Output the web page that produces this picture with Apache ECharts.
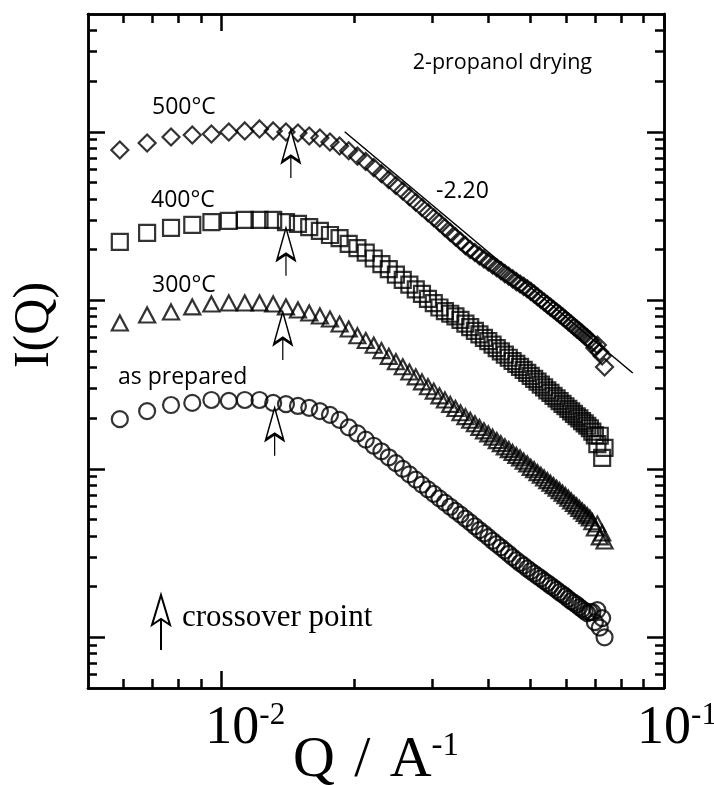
<!DOCTYPE html>
<html>
<head>
<meta charset="utf-8">
<script src="https://cdn.jsdelivr.net/npm/echarts@6/dist/echarts.min.js"></script>
<style>
  html, body { margin: 0; padding: 0; background: #fff; }
  #chart { width: 714px; height: 785px; }
</style>
</head>
<body>
<div id="chart"></div>
<script>
// Q values (A^-1), shared by all four curves
var qValues = [0.0059, 0.0068, 0.0077, 0.0086, 0.0095, 0.0104, 0.0113, 0.0122, 0.0131, 0.0140,
  0.0149, 0.0158, 0.0167, 0.0176, 0.0185, 0.0194, 0.0203, 0.0212, 0.0221, 0.0230,
  0.0239, 0.0248, 0.0257, 0.0266, 0.0275, 0.0284, 0.0293, 0.0302, 0.0311, 0.0320,
  0.0329, 0.0338, 0.0347, 0.0356, 0.0365, 0.0374, 0.0383, 0.0392, 0.0401, 0.0410,
  0.0419, 0.0428, 0.0437, 0.0446, 0.0455, 0.0464, 0.0473, 0.0482, 0.0491, 0.0500,
  0.0509, 0.0518, 0.0527, 0.0536, 0.0545, 0.0554, 0.0563, 0.0572, 0.0581, 0.0590,
  0.0599, 0.0608, 0.0617, 0.0626, 0.0635, 0.0644, 0.0653, 0.0662, 0.0671, 0.0680,
  0.0689, 0.0698, 0.0707, 0.0716, 0.0725, 0.0734];

// I(Q), arbitrary units
var i500 = [780, 858, 931, 957, 970, 997, 1012, 1040, 1012, 997,
  984, 944, 918, 869, 824, 772, 717, 667, 613, 563,
  520, 480, 445, 412, 382, 355, 331, 309, 289, 270,
  253, 238, 224, 211, 200, 192, 183, 176, 169, 162,
  156, 150, 144, 139, 134, 129, 125, 121, 117, 113,
  109, 105, 101, 97.7, 94.3, 91.1, 88.1, 85.2, 82.5, 79.8,
  77.1, 74.6, 72.3, 69.9, 67.7, 65.7, 63.6, 61.6, 59.8, 58.1,
  55.8, 52.1, 54.3, 49.3, 46.7, 40.2];
var i400 = [222, 251, 269, 280, 291, 296, 300, 300, 300, 291,
  284, 272, 258, 244, 234, 216, 204, 192, 177, 164,
  153, 142, 132, 124, 116, 109, 102, 96.2, 90.6, 86.3,
  83.2, 80.3, 76.6, 72.7, 69.2, 65.8, 62.8, 59.9, 57.2, 54.5,
  52.0, 49.8, 47.6, 45.6, 43.6, 41.9, 40.2, 38.6, 37.1, 35.6,
  34.2, 32.9, 31.6, 30.4, 29.2, 28.2, 27.1, 26.2, 25.2, 24.3,
  23.5, 22.7, 21.9, 21.2, 20.5, 19.9, 19.2, 18.6, 18.0, 17.4,
  16.6, 15.8, 14.0, 15.7, 11.6, 13.3];
var i300 = [73.3, 81.8, 85.2, 91.3, 95.1, 96.4, 96.4, 96.4, 95.1, 91.3,
  87.6, 84.1, 80.7, 77.4, 72.3, 67.5, 61.6, 57.7, 54.1, 50.3,
  46.5, 43.2, 40.3, 37.5, 35.1, 32.8, 30.7, 28.9, 27.1, 25.6,
  24.1, 22.8, 21.5, 20.4, 19.4, 18.5, 17.6, 16.8, 16.1, 15.4,
  14.7, 14.1, 13.5, 13.0, 12.5, 12.0, 11.6, 11.1, 10.7, 10.2,
  9.87, 9.49, 9.15, 8.82, 8.51, 8.21, 7.94, 7.66, 7.41, 7.17,
  6.93, 6.69, 6.45, 6.22, 6.02, 5.82, 5.63, 5.44, 5.27, 5.10,
  4.85, 4.45, 4.70, 3.94, 4.16, 3.73];
var iPrepared = [19.7, 22.0, 23.9, 24.6, 25.6, 25.3, 25.6, 25.6, 24.6, 24.2,
  23.6, 23.0, 22.0, 20.9, 19.5, 17.6, 16.2, 14.9, 13.7, 12.7,
  11.7, 10.8, 9.99, 9.26, 8.62, 8.05, 7.55, 7.10, 6.67, 6.30,
  5.95, 5.63, 5.34, 5.06, 4.81, 4.56, 4.33, 4.13, 3.93, 3.74,
  3.57, 3.42, 3.27, 3.13, 2.99, 2.87, 2.76, 2.66, 2.56, 2.47,
  2.39, 2.31, 2.24, 2.16, 2.10, 2.03, 1.97, 1.91, 1.85, 1.80,
  1.75, 1.69, 1.64, 1.60, 1.56, 1.51, 1.47, 1.43, 1.39, 1.41,
  1.41, 1.23, 1.45, 1.14, 1.30, 1.00];

// slope -2.20 fit line
var fitQ = [0.019, 0.085];
var fitI = [1000, 37];

// crossover points (500, 400, 300, as prepared)
var crossQ = [0.01436, 0.0140, 0.01377, 0.0132];
var crossI = [1025, 269, 85.2, 23.0];

// axis ranges and ticks
var xRange = [0.005, 0.1];
var yRange = [0.5, 5000];
var xMajor = [0.01, 0.1];
var xMinor = [0.006, 0.007, 0.008, 0.009, 0.02, 0.03, 0.04, 0.05, 0.06, 0.07, 0.08, 0.09];
var yMajor = [1, 10, 100, 1000];
var yMinor = [0.6, 0.7, 0.8, 0.9, 2, 3, 4, 5, 6, 7, 8, 9, 20, 30, 40, 50, 60, 70, 80, 90,
  200, 300, 400, 500, 600, 700, 800, 900, 2000, 3000, 4000];

var lg = Math.log10;
var serif = "'Liberation Serif', 'DejaVu Serif', serif";
var sans = "'Open Sans', 'Noto Sans', sans-serif";
var arrowPath = 'path://M9 0 L18 32 L9 26 L0 32 Z M9 26 L9 48';

function pts(ys) {
  return ys.map(function (y, i) { return [lg(qValues[i]), lg(y)]; });
}

var tickRich = {
  b: { fontFamily: serif, fontSize: 54, color: '#000', verticalAlign: 'bottom', lineHeight: 56, padding: [0, 0, 0, 26] },
  c: { fontFamily: serif, fontSize: 54, color: '#000', verticalAlign: 'bottom', lineHeight: 56, padding: [0, 0, 0, 48] },
  s: { fontFamily: serif, fontSize: 31, color: '#000', verticalAlign: 'top', lineHeight: 31 }
};
var nameRich = {
  b: { fontFamily: serif, fontSize: 58, color: '#000', verticalAlign: 'bottom', lineHeight: 60 },
  s: { fontFamily: serif, fontSize: 33, color: '#000', verticalAlign: 'top', lineHeight: 33 }
};

function makeAxis(range, pos, ticks, len, labels) {
  return {
    type: 'value',
    position: pos,
    min: lg(range[0]),
    max: lg(range[1]),
    axisLine: { show: true, onZero: false, lineStyle: { color: '#000', width: 2.5 } },
    axisTick: {
      show: true, inside: true, length: len,
      customValues: ticks.map(lg),
      lineStyle: { color: '#000', width: 2.5 }
    },
    axisLabel: {
      show: labels,
      customValues: ticks.map(lg),
      margin: 12,
      formatter: function (v) {
        var e = Math.round(v);
        return (e === -2 ? '{c|10}' : '{b|10}') + '{s|' + e + '}';
      },
      rich: tickRich
    },
    splitLine: { show: false }
  };
}

var xMain = makeAxis(xRange, 'bottom', xMajor, 17, true);
xMain.name = '{b|Q\u2004/\u2004A}{s|-1}';
xMain.nameLocation = 'middle';
xMain.nameGap = 42;
xMain.nameMoveOverlap = false;
xMain.nameTextStyle = { rich: nameRich };

var yMain = makeAxis(yRange, 'left', yMajor, 17, false);
yMain.name = 'I(Q)';
yMain.nameLocation = 'middle';
yMain.nameGap = 28;
yMain.nameTextStyle = { fontFamily: serif, fontSize: 50, color: '#000', padding: [0, 0, 0, 52] };

function scatter(name, ys, symbol, size, k) {
  return {
    type: 'scatter',
    name: name,
    data: pts(ys),
    symbol: symbol,
    symbolSize: size,
    itemStyle: { color: 'rgba(0,0,0,0)', borderColor: '#000', borderWidth: 2.2 },
    z: 3,
    markPoint: {
      symbol: arrowPath,
      symbolSize: [18, 48],
      symbolOffset: [0, '50%'],
      itemStyle: { color: '#fff', borderColor: '#000', borderWidth: 2 },
      label: { show: false },
      data: [{ coord: [lg(crossQ[k]), lg(crossI[k])] }]
    }
  };
}

var chart = echarts.init(document.getElementById('chart'));
chart.setOption({
  animation: false,
  backgroundColor: '#fff',
  grid: { left: 88, top: 14, right: 50, bottom: 97, containLabel: false, outerBoundsMode: 'none' },
  xAxis: [
    xMain,
    makeAxis(xRange, 'bottom', xMinor, 9, false),
    makeAxis(xRange, 'top', xMajor, 17, false),
    makeAxis(xRange, 'top', xMinor, 9, false)
  ],
  yAxis: [
    yMain,
    makeAxis(yRange, 'left', yMinor, 9, false),
    makeAxis(yRange, 'right', yMajor, 17, false),
    makeAxis(yRange, 'right', yMinor, 9, false)
  ],
  series: [
    scatter('500°C', i500, 'diamond', [17, 17], 0),
    scatter('400°C', i400, 'rect', [16, 16], 1),
    scatter('300°C', i300, 'triangle', [16, 15], 2),
    scatter('as prepared', iPrepared, 'circle', 16, 3),
    {
      type: 'line',
      data: [[lg(fitQ[0]), lg(fitI[0])], [lg(fitQ[1]), lg(fitI[1])]],
      showSymbol: false,
      lineStyle: { color: '#000', width: 1.5 },
      z: 4
    }
  ],
  graphic: [
    { type: 'text', x: 592, y: 63, style: { text: '2-propanol drying', font: '21.5px ' + sans, fill: '#000', align: 'right', verticalAlign: 'middle' } },
    { type: 'text', x: 152, y: 107, style: { text: '500°C', font: '23px ' + sans, fill: '#000', verticalAlign: 'middle' } },
    { type: 'text', x: 151, y: 200, style: { text: '400°C', font: '23px ' + sans, fill: '#000', verticalAlign: 'middle' } },
    { type: 'text', x: 152, y: 285, style: { text: '300°C', font: '23px ' + sans, fill: '#000', verticalAlign: 'middle' } },
    { type: 'text', x: 118, y: 377, style: { text: 'as prepared', font: '23px ' + sans, fill: '#000', verticalAlign: 'middle' } },
    { type: 'text', x: 436, y: 191, style: { text: '-2.20', font: '23px ' + sans, fill: '#000', verticalAlign: 'middle' } },
    {
      type: 'group', x: 161, y: 595,
      children: [
        { type: 'polygon', shape: { points: [[0, 0], [9, 30], [0, 24], [-9, 30]] }, style: { fill: '#fff', stroke: '#000', lineWidth: 2 } },
        { type: 'line', shape: { x1: 0, y1: 24, x2: 0, y2: 55 }, style: { stroke: '#000', lineWidth: 2 } }
      ]
    },
    { type: 'text', x: 182, y: 618, style: { text: 'crossover point', font: '31px ' + serif, fill: '#000', verticalAlign: 'middle' } }
  ]
});
</script>
</body>
</html>
